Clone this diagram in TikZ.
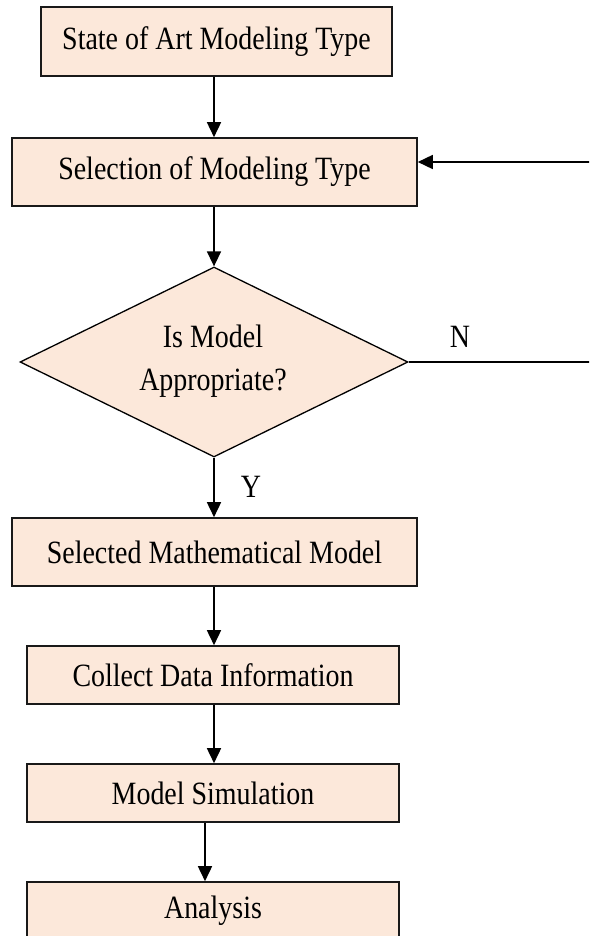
\documentclass[tikz,border=0pt]{standalone}
\usepackage{fontspec}
\setmainfont{Liberation Serif}[FakeStretch=0.86]
\usetikzlibrary{shapes.geometric,arrows.meta}
\definecolor{boxfill}{RGB}{252,232,218}
\begin{document}
\begin{tikzpicture}[x=1pt,y=-1pt,
  every node/.style={font=\fontsize{32.5}{43}\selectfont, text=black},
  flowbox/.style={draw=black!90, line width=1.6pt, fill=boxfill, inner sep=0pt},
  decision/.style={diamond, draw=black, line width=1.3pt, fill=boxfill, inner sep=0pt,
                   minimum width=388pt, minimum height=190pt},
  flowarrow/.style={line width=1.6pt, -{Triangle[width=14pt,length=15pt]}},
  flowline/.style={line width=1.3pt}]
  \useasboundingbox (0,0) rectangle (589,936);
  \clip (0,0) rectangle (589,936);

  % process steps
  \node[flowbox, minimum width=351pt, minimum height=69pt] (b1) at (216.5,41.5) {State of Art Modeling Type};
  \node[flowbox, minimum width=405pt, minimum height=68pt] (b2) at (214.5,172) {Selection of Modeling Type};
  \node[decision] (d) at (214,362) {};
  \node[align=center] (dtext) at (213,361) {Is Model\\Appropriate?};
  \node[flowbox, minimum width=405pt, minimum height=68pt] (b3) at (214.5,552) {Selected Mathematical Model};
  \node[flowbox, minimum width=372pt, minimum height=58pt] (b4) at (213,675) {Collect Data Information};
  \node[flowbox, minimum width=372pt, minimum height=58pt] (b5) at (213,793) {Model Simulation};
  \node[flowbox, minimum width=372pt, minimum height=58pt] (b6) at (213,911) {Analysis};

  % branch labels
  \node (ylab) at (251,487) {Y};
  \node (nlab) at (460,337) {N};

  % connectors
  \draw[flowarrow] (214,0 |- b1.south) -- (214,0 |- b2.north);
  \draw[flowarrow] (214,0 |- b2.south) -- (d.north);
  \draw[flowarrow] (d.south) -- (214,0 |- b3.north);
  \draw[flowarrow] (214,0 |- b3.south) -- (214,0 |- b4.north);
  \draw[flowarrow] (214,0 |- b4.south) -- (214,0 |- b5.north);
  \draw[flowarrow] (205,0 |- b5.south) -- (205,0 |- b6.north);

  % loop back when the model is not appropriate
  \coordinate (loopin) at ([yshift=10pt]b2.east);
  \coordinate (loopturn) at (610,0 |- d.east);
  \draw[flowline] (d.east) -- (loopturn);
  \draw[flowarrow] (loopturn) |- (loopin);
\end{tikzpicture}
\end{document}
